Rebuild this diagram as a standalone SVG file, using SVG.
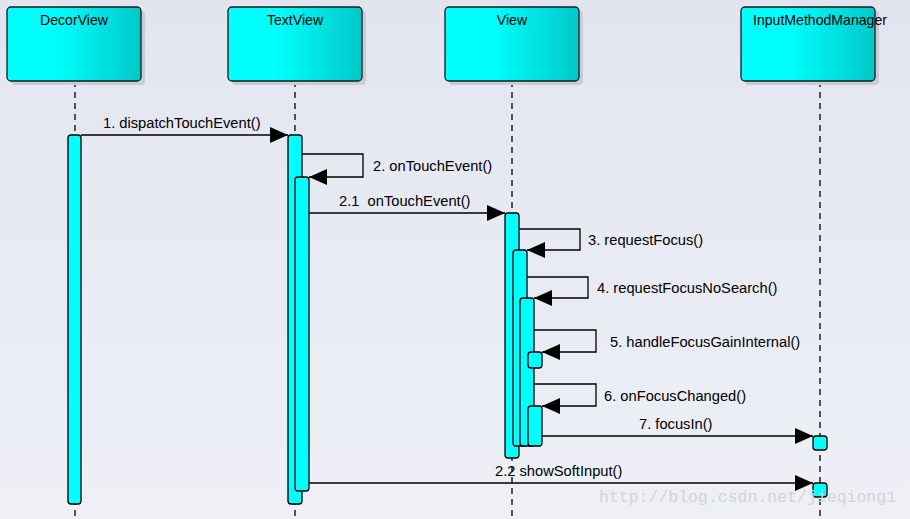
<svg xmlns="http://www.w3.org/2000/svg" width="910" height="519" viewBox="0 0 910 519">
<defs>
<linearGradient id="bg" x1="0" y1="0" x2="0" y2="1">
<stop offset="0" stop-color="#e2e5f0"/>
<stop offset="1" stop-color="#eef0f6"/>
</linearGradient>
<linearGradient id="box" x1="0" y1="0" x2="1" y2="0">
<stop offset="0" stop-color="#00ffff"/>
<stop offset="0.35" stop-color="#00ffff"/>
<stop offset="1" stop-color="#00c8c8"/>
</linearGradient>
<marker id="ah" viewBox="0 0 18 16" refX="18" refY="8" markerWidth="18" markerHeight="16" markerUnits="userSpaceOnUse" orient="auto">
<path d="M0,0 L18,8 L0,16 Z" fill="#000"/>
</marker>
</defs>
<style>
.box{fill:url(#box);stroke:#1a1a1a;stroke-width:1.3}
.shadow{fill:#c9ccd6}
.life{stroke:#000;stroke-width:1.3;stroke-dasharray:6,5;fill:none}
.act{fill:#00ffff;stroke:#000;stroke-width:1.3}
.msg{stroke:#000;stroke-width:1.3;fill:none;marker-end:url(#ah)}
.t{font-family:"Liberation Sans",Arial,sans-serif;font-size:14.7px;fill:#000}
.title{font-family:"Liberation Sans",Arial,sans-serif;font-size:14.1px;fill:#000;text-anchor:middle}
.wm{font-family:"Liberation Mono","DejaVu Sans Mono",monospace;font-size:16.5px;fill:#d2d4d9}
</style>
<rect width="910" height="519" fill="url(#bg)"/>
<g id="lifelines">
<line class="life" x1="75" y1="81" x2="75" y2="519"/>
<line class="life" x1="295" y1="81" x2="295" y2="519"/>
<line class="life" x1="512" y1="81" x2="512" y2="519"/>
<line class="life" x1="820" y1="81" x2="820" y2="519"/>
</g>
<g id="DecorView">
<rect class="shadow" x="11" y="11" width="134" height="74" rx="4"/>
<rect class="box" x="7" y="7" width="134" height="74" rx="4"/>
<text class="title" x="74" y="25">DecorView</text>
</g>
<g id="TextView">
<rect class="shadow" x="232" y="11" width="134" height="74" rx="4"/>
<rect class="box" x="228" y="7" width="134" height="74" rx="4"/>
<text class="title" x="295" y="25">TextView</text>
</g>
<g id="View">
<rect class="shadow" x="449" y="11" width="134" height="74" rx="4"/>
<rect class="box" x="445" y="7" width="134" height="74" rx="4"/>
<text class="title" x="512" y="25">View</text>
</g>
<g id="InputMethodManager">
<rect class="shadow" x="745" y="11" width="134" height="74" rx="4"/>
<rect class="box" x="741" y="7" width="134" height="74" rx="4"/>
<text class="title" x="820" y="25">InputMethodManager</text>
</g>
<g id="activations">
<rect class="act" x="68" y="135" width="13" height="369" rx="3"/>
<rect class="act" x="288" y="135" width="14" height="369" rx="3"/>
<rect class="act" x="295" y="177" width="14" height="314" rx="3"/>
<rect class="act" x="505" y="213" width="14" height="245" rx="3"/>
<rect class="act" x="513" y="250" width="14" height="196" rx="3"/>
<rect class="act" x="520" y="298" width="14" height="148" rx="3"/>
<rect class="act" x="528" y="352" width="14" height="16" rx="3"/>
<rect class="act" x="528" y="406" width="14" height="40" rx="3"/>
<rect class="act" x="813" y="436" width="14" height="14" rx="3"/>
<rect class="act" x="813" y="483" width="14" height="14" rx="3"/>
</g>
<g id="connectors">
<line class="msg" x1="81" y1="135" x2="288" y2="135"/>
<path class="msg" d="M302,154 H363 V177 H309"/>
<line class="msg" x1="309" y1="213" x2="505" y2="213"/>
<path class="msg" d="M519,229 H580 V250 H527"/>
<path class="msg" d="M527,277 H588 V298 H534"/>
<path class="msg" d="M534,330 H596 V352 H542"/>
<path class="msg" d="M534,384 H596 V406 H542"/>
<line class="msg" x1="542" y1="436" x2="813" y2="436"/>
<line class="msg" x1="309" y1="483" x2="813" y2="483"/>
</g>
<g id="labels">
<text class="t" x="103" y="128">1. dispatchTouchEvent()</text>
<text class="t" x="373" y="171">2. onTouchEvent()</text>
<text class="t" x="339" y="206" xml:space="preserve">2.1  onTouchEvent()</text>
<text class="t" x="588" y="245">3. requestFocus()</text>
<text class="t" x="597" y="293">4. requestFocusNoSearch()</text>
<text class="t" x="610" y="347">5. handleFocusGainInternal()</text>
<text class="t" x="604" y="401">6. onFocusChanged()</text>
<text class="t" x="639" y="429">7. focusIn()</text>
<text class="t" x="495" y="476">2.2 showSoftInput()</text>
</g>
<text class="wm" x="599" y="502">http://blog.csdn.net/jieqiong1</text>
</svg>
